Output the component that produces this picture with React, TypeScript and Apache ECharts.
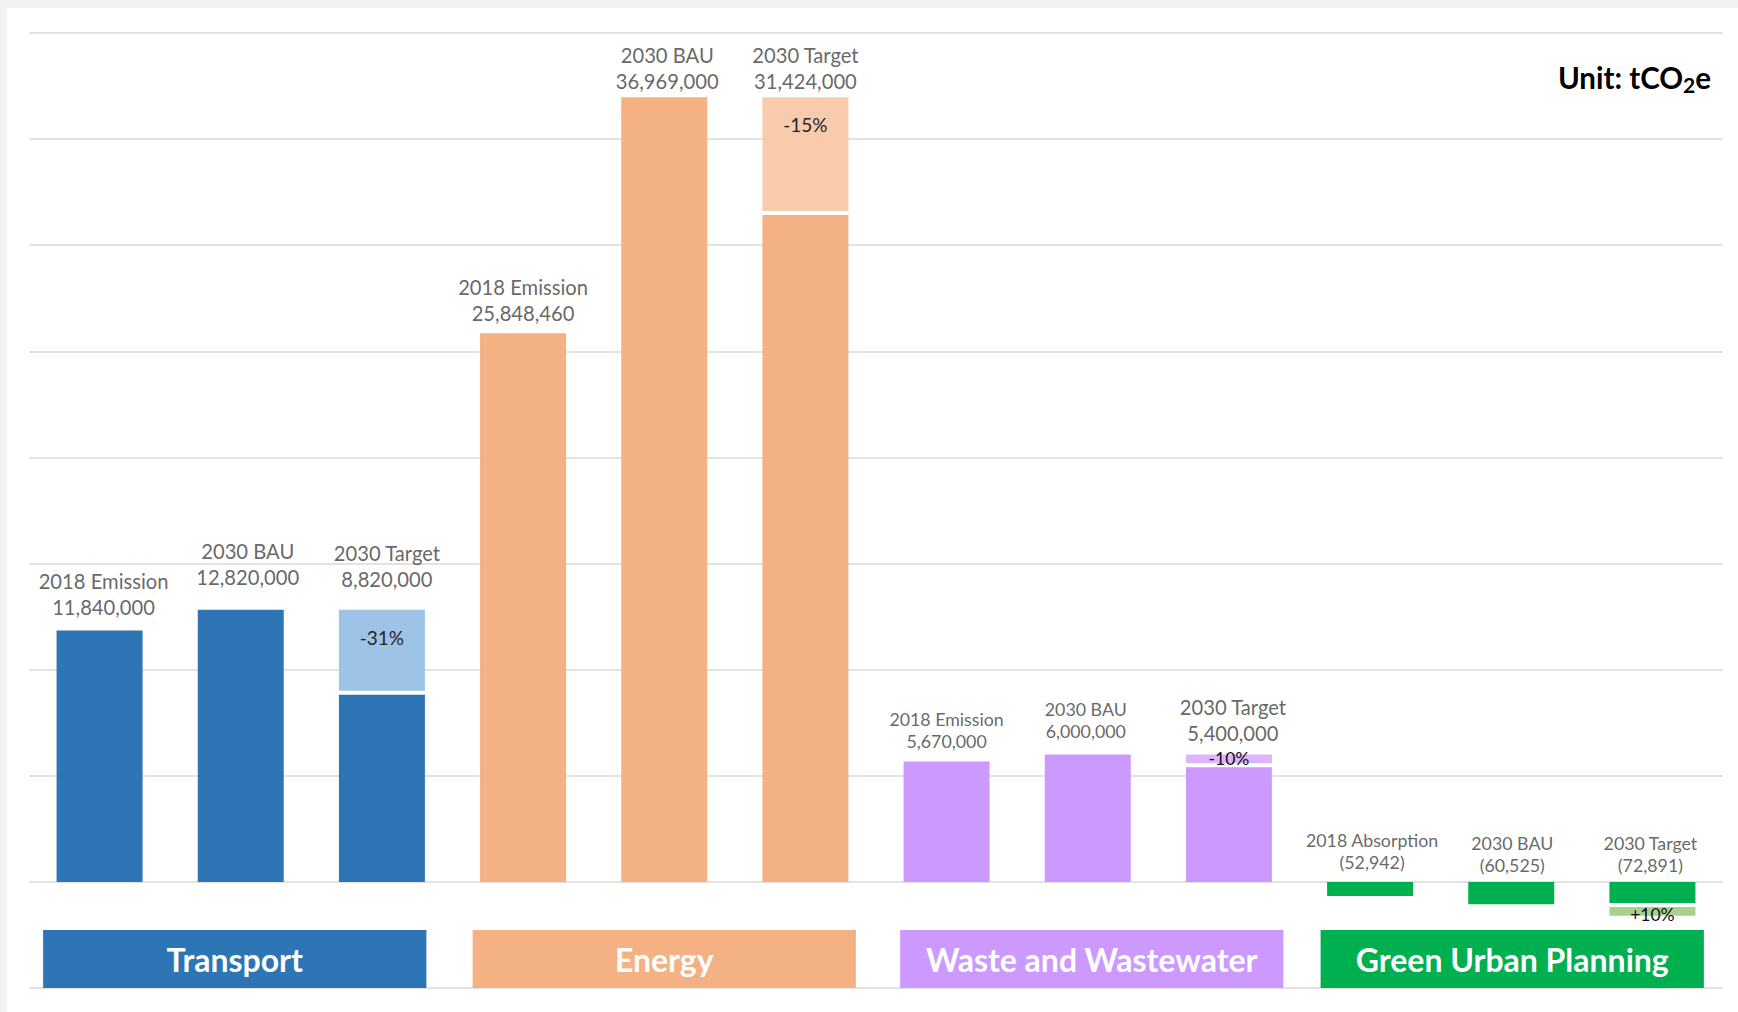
import React, { useEffect, useRef } from 'react';
import * as echarts from 'echarts';

// ---------- data ----------
const sectors = ['Transport', 'Energy', 'Waste and Wastewater', 'Green Urban Planning'];
const columnNames = [
  '2018 Emission', '2030 BAU', '2030 Target',
  '2018 Emission', '2030 BAU', '2030 Target',
  '2018 Emission', '2030 BAU', '2030 Target',
  '2018 Absorption', '2030 BAU', '2030 Target',
];
const columnSector = [0, 0, 0, 1, 1, 1, 2, 2, 2, 3, 3, 3];
// values printed in the labels (tCO2e)
const reportedValues = [
  11840000, 12820000, 8820000,
  25848460, 36969000, 31424000,
  5670000, 6000000, 5400000,
  -52942, -60525, -72891,
];
// bar heights as drawn in the picture (green bars are drawn exaggerated)
const barValues = [
  11840000, 12820000, 8820000,
  25848460, 36969000, 31424000,
  5670000, 6000000, 5400000,
  -660000, -1050000, -1000000,
];
// change between BAU and target, drawn as the lighter piece on top of the target bar
const changeValues = [0, 0, 4000000, 0, 0, 5545000, 0, 0, 600000, 0, 0, -600000];
const changeLabels = ['', '', '-31%', '', '', '-15%', '', '', '-10%', '', '', '+10%'];
const yMin = -5000000;
const yMax = 40000000;
const yInterval = 5000000;

// ---------- styles / layout ----------
const darkColors = ['#2E75B6', '#F4B183', '#CC99FF', '#00B050'];
const lightColors = ['#9DC3E6', '#F8CBAD', '#DDB5FF', '#A9D18E'];
const labelSmall = [false, false, false, false, false, false, true, true, false, true, true, true];
const labelDist = [10, 19, 17, 7, 3, 3, 9, 12, 8, 8, 5, 5];
const labelDx = [4, 7, 5, 0, 3, 0, 0, -2, 4, 2, 1, -2];
const boxDx = [-6, 0, 4, 1];
const BOX_TOP = -2270000;
const BAR_W = 86;
const GAP = 4;
const FONT = 'Lato';

const fmt = (v: number) => (v < 0 ? `(${(-v).toLocaleString('en-US')})` : v.toLocaleString('en-US'));

function buildOption(): any {
  const tops = barValues.map((v, i) => Math.max(0, v + Math.max(0, changeValues[i])));
  const catKeys = columnNames.map((n, i) => `${sectors[columnSector[i]]} ${n}`);
  const changeData: number[][] = [];
  changeValues.forEach((v, i) => {
    if (v !== 0) changeData.push([i, barValues[i], barValues[i] + v]);
  });

  return {
    animation: false,
    backgroundColor: 'transparent',
    title: {
      right: 22,
      top: 47,
      text: '{u|Unit: tCO}{s|2}{u|e}',
      textStyle: {
        rich: {
          u: { fontFamily: FONT, fontWeight: 'bold', fontSize: 29.5, color: '#000', lineHeight: 35 },
          s: { fontFamily: FONT, fontWeight: 'bold', fontSize: 21, color: '#000', lineHeight: 21, verticalAlign: 'bottom' },
        },
      },
    },
    grid: { left: 22, right: 15, top: 25, bottom: 24 },
    xAxis: [
      { type: 'category', data: catKeys, show: false },
      { type: 'category', data: sectors, show: false },
    ],
    yAxis: {
      type: 'value',
      min: yMin,
      max: yMax,
      interval: yInterval,
      axisLabel: { show: false },
      axisLine: { show: false },
      axisTick: { show: false },
      splitLine: { show: true, lineStyle: { color: '#D9D9D9', width: 1.5 } },
    },
    series: [
      {
        name: 'base',
        type: 'bar',
        barWidth: BAR_W,
        data: barValues.map((v, i) => ({ value: v, itemStyle: { color: darkColors[columnSector[i]] } })),
      },
      {
        name: 'change',
        type: 'custom',
        xAxisIndex: 0,
        yAxisIndex: 0,
        silent: true,
        z: 3,
        data: changeData,
        encode: { x: 0, y: 2 },
        renderItem: (params: any, api: any) => {
          const i = api.value(0);
          const s = columnSector[i];
          const a = api.coord([i, api.value(1)]);
          const b = api.coord([i, api.value(2)]);
          let y1: number;
          let y2: number;
          if (b[1] < a[1]) {
            y1 = b[1];
            y2 = a[1] - GAP;
          } else {
            y1 = a[1] + GAP;
            y2 = b[1];
          }
          const insideTop = s < 2;
          return {
            type: 'group',
            children: [
              {
                type: 'rect',
                shape: { x: a[0] - BAR_W / 2, y: y1, width: BAR_W, height: y2 - y1 },
                style: { fill: lightColors[s] },
              },
              {
                type: 'text',
                z2: 10,
                style: {
                  text: changeLabels[i],
                  x: a[0],
                  y: insideTop ? y1 + 18 : (y1 + y2) / 2 + (s === 3 ? 3 : 0),
                  align: 'center',
                  verticalAlign: insideTop ? 'top' : 'middle',
                  fill: insideTop ? '#262626' : '#111111',
                  fontSize: insideTop ? 19 : 17.5,
                  fontFamily: FONT,
                },
              },
            ],
          };
        },
      },
      {
        name: 'labels',
        type: 'scatter',
        silent: true,
        symbolSize: 1,
        itemStyle: { color: 'rgba(0,0,0,0)' },
        z: 5,
        data: tops.map((t, i) => ({ value: [i, t], label: { distance: labelDist[i], offset: [labelDx[i], 0] } })),
        label: {
          show: true,
          position: 'top',
          align: 'center',
          formatter: (p: any) => {
            const i = p.dataIndex;
            const k = labelSmall[i] ? 's' : 'l';
            return `{n${k}|${columnNames[i]}}\n{n${k}|${fmt(reportedValues[i])}}`;
          },
          rich: {
            nl: { fontFamily: FONT, fontSize: 20.2, lineHeight: 26, color: '#404040', align: 'center' },
            ns: { fontFamily: FONT, fontSize: 17.8, lineHeight: 22.3, color: '#404040', align: 'center' },
          },
        },
      },
      {
        name: 'sectors',
        type: 'custom',
        xAxisIndex: 1,
        yAxisIndex: 0,
        silent: true,
        z: 3,
        data: sectors.map((_, i) => [i, yMin]),
        encode: { x: 0, y: 1 },
        renderItem: (params: any, api: any) => {
          const i = api.value(0);
          const p1 = api.coord([i, BOX_TOP]);
          const p2 = api.coord([i, yMin]);
          const w = api.size([1, 0])[0] * 0.905;
          const cx = p1[0] + boxDx[i];
          return {
            type: 'group',
            children: [
              {
                type: 'rect',
                shape: { x: cx - w / 2, y: p1[1], width: w, height: p2[1] - p1[1] },
                style: { fill: darkColors[i] },
              },
              {
                type: 'text',
                style: {
                  text: sectors[i],
                  x: cx,
                  y: (p1[1] + p2[1]) / 2,
                  align: 'center',
                  verticalAlign: 'middle',
                  fill: '#fff',
                  fontSize: 32,
                  fontWeight: 'bold',
                  fontFamily: FONT,
                },
              },
            ],
          };
        },
      },
    ],
  };
}

export default function App() {
  const ref = useRef<HTMLDivElement>(null);
  useEffect(() => {
    document.body.style.margin = '0';
    const chart = echarts.init(ref.current!, null, { renderer: 'svg' });
    chart.setOption(buildOption());
    return () => chart.dispose();
  }, []);
  return (
    <div style={{ width: 1738, height: 1012, background: '#F2F2F2', position: 'relative', overflow: 'hidden' }}>
      <div ref={ref} style={{ position: 'absolute', left: 7, top: 8, width: 1731, height: 1004, background: '#FFFFFF' }} />
    </div>
  );
}
